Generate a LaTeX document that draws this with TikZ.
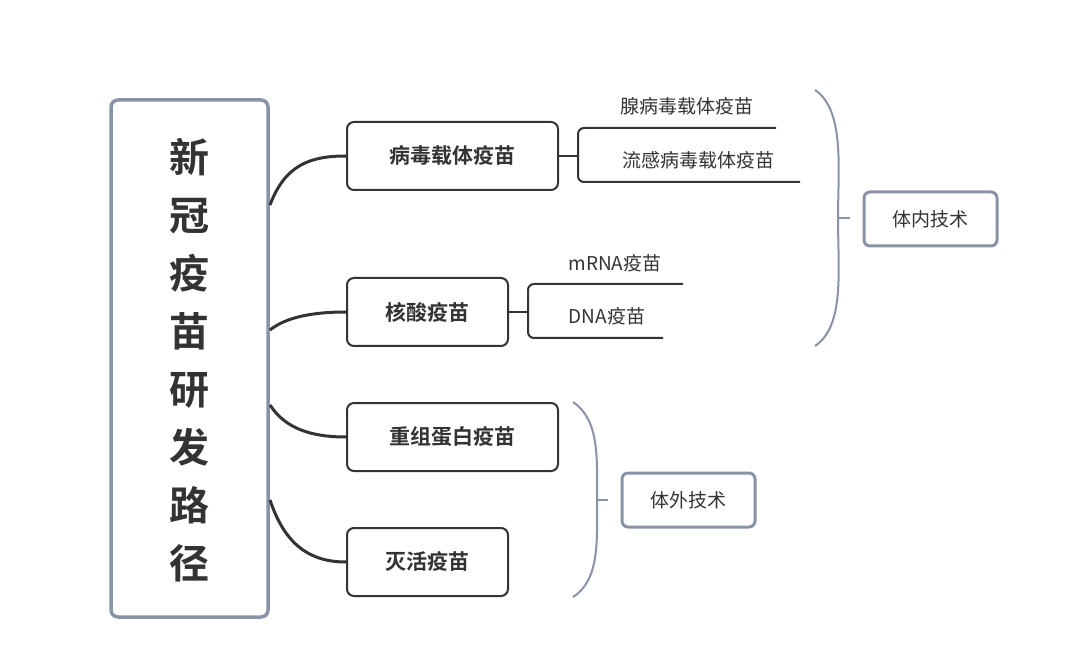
\documentclass[tikz,border=0pt]{standalone}
\usepackage{fontspec}
\setmainfont{Noto Sans CJK SC}
\newfontfamily\cjkb{Noto Sans CJK SC Bold}
\definecolor{dk}{HTML}{333333}
\definecolor{gb}{HTML}{8A93A6}
\begin{document}
\begin{tikzpicture}[x=1pt,y=-1pt,
 main/.style={draw=gb,line width=3.5pt,rounded corners=7pt,fill=white},
 br/.style={draw=dk,line width=2pt,rounded corners=7pt,minimum height=68pt,font=\cjkb\fontsize{21}{21}\selectfont,text=dk},
 tech/.style={draw=gb,line width=3pt,rounded corners=6pt,minimum width=133pt,minimum height=54pt,font=\fontsize{19}{19}\selectfont,text=dk},
 con/.style={draw=dk,line width=3pt},
 sub/.style={draw=dk,line width=2pt},
 lab/.style={font=\fontsize{19}{19}\selectfont,text=dk},
 brace/.style={draw=gb,line width=2pt}]
\useasboundingbox (0,0) rectangle (1080,671);
\node[main,minimum width=157pt,minimum height=517pt] (m) at (189.5,358.5) {};
\node[text=dk,font=\cjkb\fontsize{40}{58}\selectfont,align=center] (mt) at (189.5,360) {新\\冠\\疫\\苗\\研\\发\\路\\径};
\node[br,minimum width=211pt] (a) at (452.5,156) {病毒载体疫苗};
\node[br,minimum width=161pt] (b) at (427.5,312) {核酸疫苗};
\node[br,minimum width=211pt] (c) at (452.5,437) {重组蛋白疫苗};
\node[br,minimum width=161pt] (d) at (427.5,562) {灭活疫苗};
\coordinate (m1) at (270,205);
\coordinate (m2) at (270,330);
\coordinate (m3) at (270,405);
\coordinate (m4) at (270,500);
\draw[con] (m1) .. controls (285,165) and (310,156) .. (a.west);
\draw[con] (m2) .. controls (285,318) and (310,312) .. (b.west);
\draw[con] (m3) .. controls (285,428) and (310,437) .. (c.west);
\draw[con] (m4) .. controls (285,545) and (310,562) .. (d.west);
% subs
\coordinate (a1) at (578,156);
\draw[sub] (a.east) -- (a1);
\draw[sub,rounded corners=6pt] (776,128) -- (578,128) -- (578,182) -- (800,182);
\node[lab] (a2) at (687,106) {腺病毒载体疫苗};
\node[lab] (a3) at (698,160) {流感病毒载体疫苗};
\coordinate (b1) at (528,312);
\draw[sub] (b.east) -- (b1);
\draw[sub,rounded corners=6pt] (683,284) -- (528,284) -- (528,338) -- (663,338);
\node[lab] (b2) at (615,263) {mRNA疫苗};
\node[lab] (b3) at (607,316) {DNA疫苗};
% braces
\node[tech] (t1) at (930.5,219) {体内技术};
\node[tech] (t2) at (688.5,500) {体外技术};
\coordinate (p1) at (815,90); \coordinate (p2) at (815,346); \coordinate (pm) at (838,218);
\draw[brace] (p1) .. controls (845,110) and (838,170) .. (pm) .. controls (838,270) and (845,326) .. (p2);
\draw[brace] (pm) -- (850,218);
\coordinate (q1) at (573,402); \coordinate (q2) at (573,597); \coordinate (qm) at (597,500);
\draw[brace] (q1) .. controls (600,420) and (597,460) .. (qm) .. controls (597,540) and (600,580) .. (q2);
\draw[brace] (qm) -- (608,500);
\end{tikzpicture}
\end{document}
